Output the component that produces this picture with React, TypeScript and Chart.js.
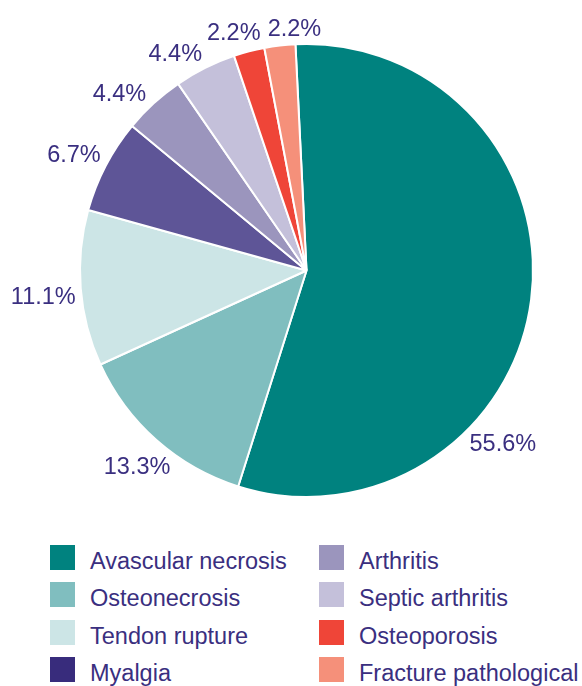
import React, { useEffect, useRef } from "react";
import { Chart, registerables } from "chart.js";

Chart.register(...registerables);

const categories = [
  "Avascular necrosis",
  "Osteonecrosis",
  "Tendon rupture",
  "Myalgia",
  "Arthritis",
  "Septic arthritis",
  "Osteoporosis",
  "Fracture pathological",
];
const percentages = [55.6, 13.3, 11.1, 6.7, 4.4, 4.4, 2.2, 2.2];
const sliceColors = ["#00827f", "#80bebf", "#cce5e6", "#5e5597", "#9b95bd", "#c4c0da", "#ef4538", "#f5907a"];
const legendColors = ["#00827f", "#80bebf", "#cce5e6", "#382c7c", "#9b95bd", "#c4c0da", "#ef4538", "#f5907a"];
const labelAngleShift = [34.1, -0.8, -1.4, -1.3, -4.3, -4.7, -2.4, 3.9];

const TEXT = "#3a2f80";
const FONT = '"Liberation Sans", Arial, Helvetica, sans-serif';
const FONT_SIZE = 23.5;

const outsideLabels = {
  id: "outsideLabels",
  afterDatasetsDraw(chart: any) {
    const ctx = chart.ctx;
    const meta = chart.getDatasetMeta(0);
    ctx.save();
    ctx.font = `${FONT_SIZE}px ${FONT}`;
    ctx.fillStyle = TEXT;
    ctx.textAlign = "center";
    ctx.textBaseline = "middle";
    meta.data.forEach((arc: any, i: number) => {
      const { x, y, startAngle, endAngle, outerRadius } = arc.getProps(
        ["x", "y", "startAngle", "endAngle", "outerRadius"],
        true
      );
      const a = (startAngle + endAngle) / 2 + (labelAngleShift[i] * Math.PI) / 180;
      const text = percentages[i].toFixed(1) + "%";
      const hw = ctx.measureText(text).width / 2;
      const hh = 8.5;
      const c = Math.cos(a);
      const s = Math.sin(a);
      const d = outerRadius + 5 + Math.abs(c) * hw + Math.abs(s) * hh;
      ctx.fillText(text, x + c * d, y + s * d);
    });
    ctx.restore();
  },
};

export default function App() {
  const canvasRef = useRef<HTMLCanvasElement | null>(null);

  useEffect(() => {
    document.body.style.margin = "0";
    const canvas = canvasRef.current;
    if (!canvas) return;
    const chart = new Chart(canvas, {
      type: "pie",
      data: {
        labels: categories,
        datasets: [
          {
            data: percentages,
            backgroundColor: sliceColors,
            borderColor: "#ffffff",
            borderWidth: 2,
          },
        ],
      },
      options: {
        responsive: false,
        animation: false,
        rotation: -2.8,
        layout: { padding: { top: 43, bottom: 22, left: 79, right: 48 } },
        plugins: {
          legend: { display: false },
          tooltip: { enabled: false },
        },
      },
      plugins: [outsideLabels],
    });
    return () => chart.destroy();
  }, []);

  return (
    <div style={{ position: "relative", width: 582, height: 686, background: "#fff", overflow: "hidden" }}>
      <canvas
        ref={canvasRef}
        width={582}
        height={520}
        style={{ position: "absolute", left: 0, top: 0, width: 582, height: 520 }}
      />
      <div
        style={{
          position: "absolute",
          left: 50,
          top: 545,
          display: "grid",
          gridTemplateColumns: "269px 269px",
          gridTemplateRows: "repeat(4, 37.33px)",
          gridAutoFlow: "column",
          fontFamily: FONT,
          fontSize: FONT_SIZE,
          color: TEXT,
        }}
      >
        {categories.map((cat, i) => (
          <div key={cat} style={{ display: "flex", alignItems: "flex-start", height: 25, whiteSpace: "nowrap" }}>
            <span
              style={{
                display: "inline-block",
                width: 25,
                height: 25,
                background: legendColors[i],
                flex: "0 0 25px",
              }}
            />
            <span style={{ marginLeft: 15, lineHeight: "25px", position: "relative", top: 4 }}>{cat}</span>
          </div>
        ))}
      </div>
    </div>
  );
}
